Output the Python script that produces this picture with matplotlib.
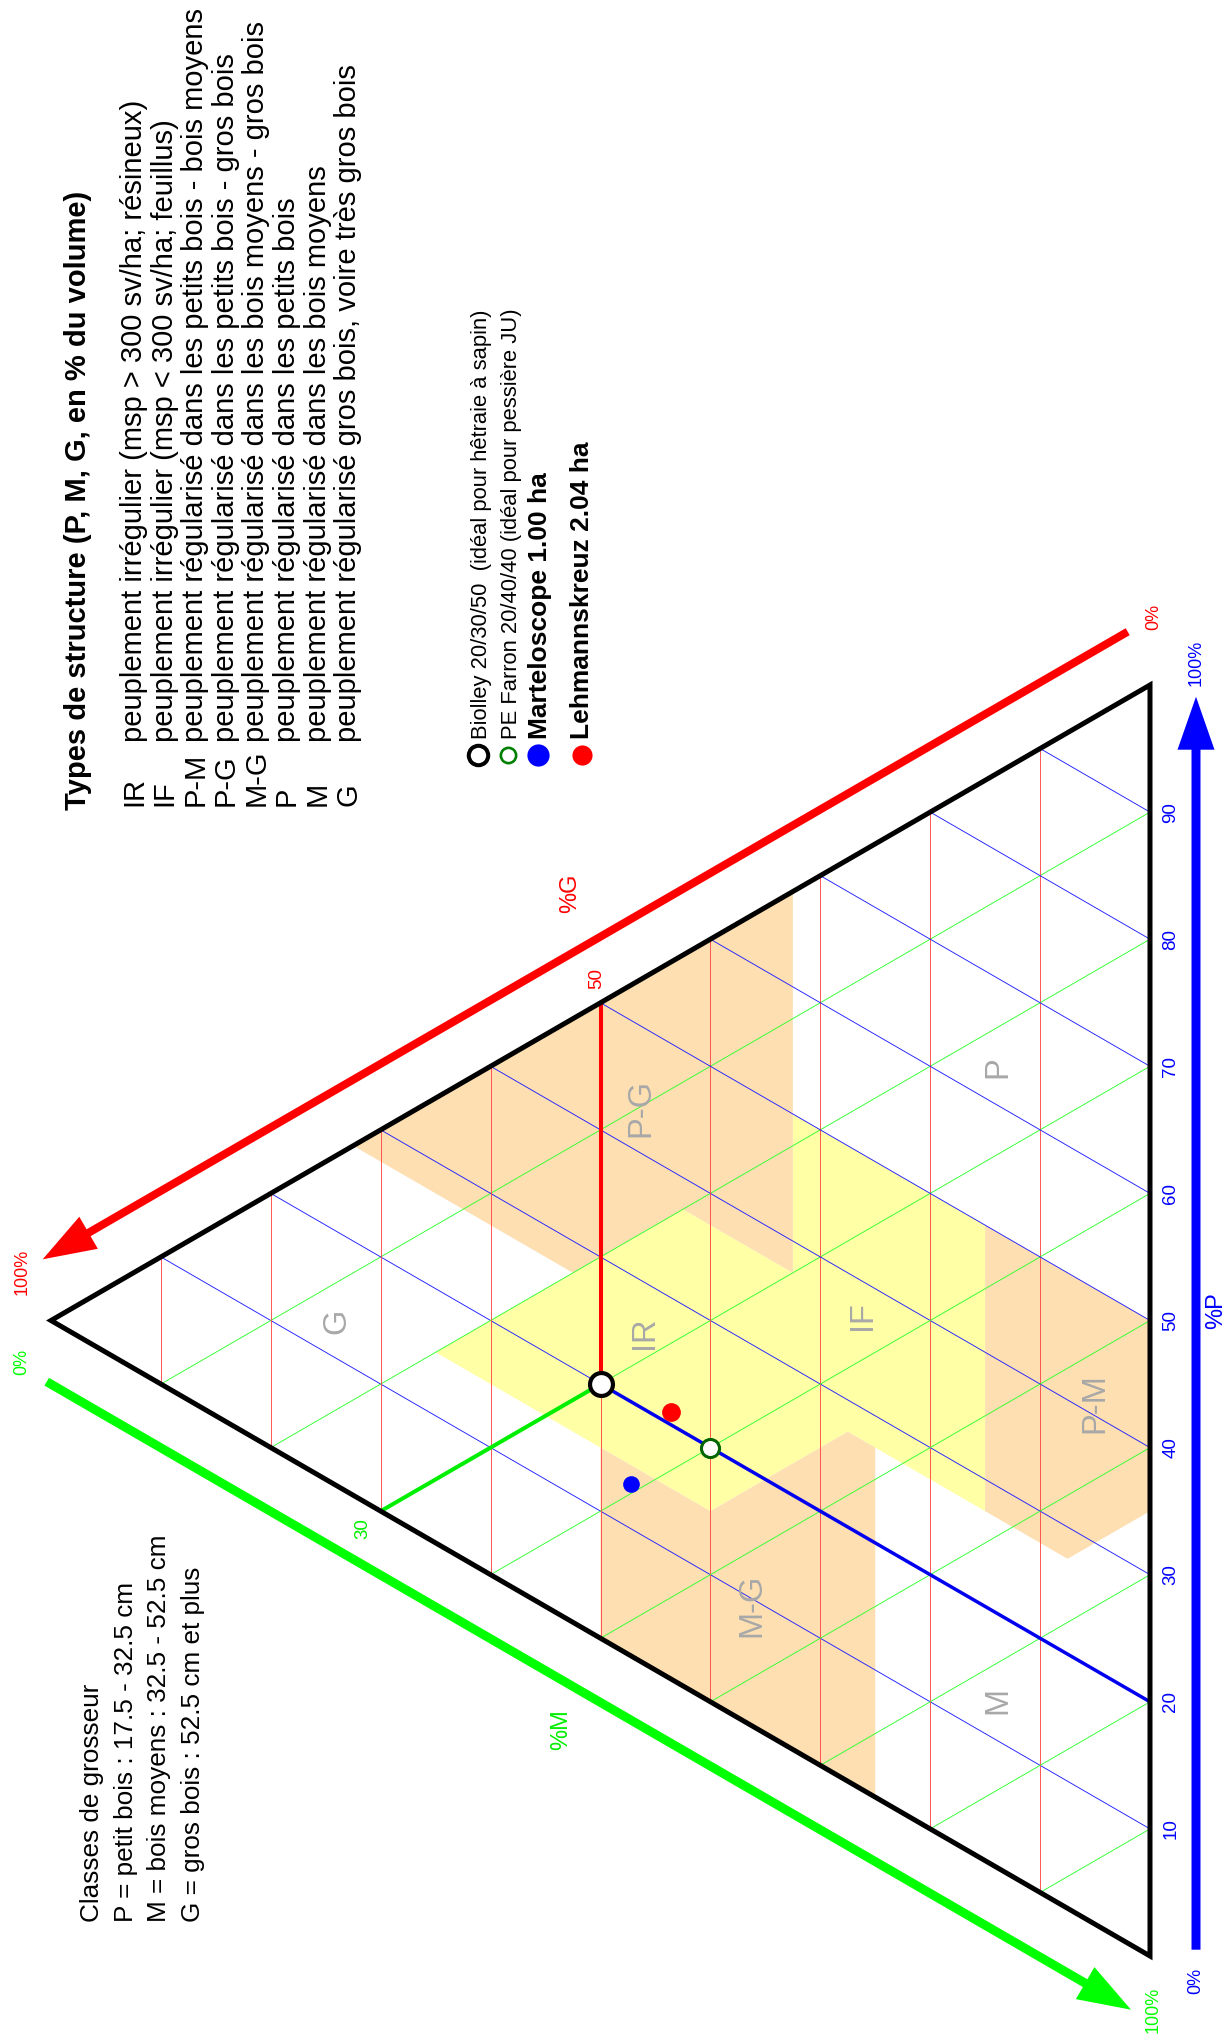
import matplotlib.pyplot as plt
from matplotlib.patches import Polygon, FancyArrow

plt.rcParams['font.family'] = ['Liberation Sans', 'DejaVu Sans']

# --- données (en % du volume : P, M, G) ---
biolley = (20, 30, 50)
farron = (20, 40, 40)
marteloscope = (13.5, 39.3, 47.2)
lehmannskreuz = (21.0, 35.4, 43.6)

graduations = [10, 20, 30, 40, 50, 60, 70, 80, 90]

# zones de structure, sommets en (P, M, G)
zone_jaune = [(15, 20, 65), (37.5, 20, 42.5), (37.5, 30, 32.5), (50, 17.5, 32.5),
              (50, 35, 15), (27.5, 57.5, 15), (27.5, 45, 27.5), (15, 45, 40)]
zone_pg = [(27.5, 0, 72.5), (67.5, 0, 32.5), (37.5, 30, 32.5),
           (37.5, 20, 42.5), (27.5, 20, 52.5)]
zone_pm = [(50, 50, 0), (50, 35, 15), (27.5, 57.5, 15), (27.5, 65, 7.5), (35, 65, 0)]
zone_mg = [(15, 35, 50), (15, 45, 40), (27.5, 45, 27.5), (27.5, 47.5, 25),
           (0, 75, 25), (0, 50, 50)]

noms_zones = ["IR", "IF", "P-G", "P-M", "M-G", "P", "M", "G"]
pos_noms = [(26, 28, 46), (37.3, 36.5, 26.2), (43.6, 10.1, 46.3), (41, 54, 5),
            (9.5, 54.3, 36.2), (63, 23.2, 13.8), (13.2, 73, 13.8), (12.9, 13.1, 74)]

types_abrev = ["IR", "IF", "P-M", "P-G", "M-G", "P", "M", "G"]
types_texte = [
    "peuplement irrégulier (msp > 300 sv/ha; résineux)",
    "peuplement irrégulier (msp < 300 sv/ha; feuillus)",
    "peuplement régularisé dans les petits bois - bois moyens",
    "peuplement régularisé dans les petits bois - gros bois",
    "peuplement régularisé dans les bois moyens - gros bois",
    "peuplement régularisé dans les petits bois",
    "peuplement régularisé dans les bois moyens",
    "peuplement régularisé gros bois, voire très gros bois",
]
classes = ["Classes de grosseur",
           "P = petit bois : 17.5 - 32.5 cm",
           "M = bois moyens : 32.5 - 52.5 cm",
           "G = gros bois : 52.5 cm et plus"]

LARG, HAUT = 1231, 2043
X_BASE, X_G = 1150, 51
Y_P, Y_M = 685, 1956


def tern(p, m, g):
    # axes ternaires : x = 100 - G, y = (P - M) / 2
    return 100 - g, (p - m) / 2


def segment(a, b, **kw):
    xa, ya = tern(*a)
    xb, yb = tern(*b)
    ax.plot([xa, xb], [ya, yb], clip_on=False, solid_capstyle='butt', **kw)


fig = plt.figure(figsize=(LARG / 100, HAUT / 100), dpi=100)
ax = fig.add_axes([X_G / LARG, 1 - Y_M / HAUT, (X_BASE - X_G) / LARG, (Y_M - Y_P) / HAUT])
ax.set_xlim(0, 100)
ax.set_ylim(-50, 50)
ax.axis('off')

# zones colorées
for zone, coul in [(zone_jaune, '#FFFFA6'), (zone_pg, '#FDDFB1'),
                   (zone_pm, '#FDDFB1'), (zone_mg, '#FDDFB1')]:
    ax.add_patch(Polygon([tern(*s) for s in zone], closed=True, facecolor=coul,
                         edgecolor='none', zorder=1, clip_on=False))

# grille
for k in graduations:
    segment((k, 100 - k, 0), (k, 0, 100 - k), color='#2020FF', lw=0.65, zorder=2)
    segment((100 - k, k, 0), (0, k, 100 - k), color='#30FF30', lw=0.65, zorder=2)
    segment((100 - k, 0, k), (0, 100 - k, k), color='#FF4848', lw=0.65, zorder=2)

# repères Biolley
segment((50, 0, 50), biolley, color='#FF0000', lw=2.9, zorder=3)
segment((0, 30, 70), biolley, color='#00EE00', lw=2.9, zorder=3)
segment((20, 80, 0), biolley, color='#0000EE', lw=2.5, zorder=3)

# triangle
coins = [tern(100, 0, 0), tern(0, 100, 0), tern(0, 0, 100)]
ax.add_patch(Polygon(coins, closed=True, fill=False, edgecolor='black', lw=3.6,
                     joinstyle='miter', zorder=4, clip_on=False))

# points
ax.plot(*tern(*biolley), 'o', ms=16.5, mfc='white', mec='black', mew=3.0, zorder=6, clip_on=False)
ax.plot(*tern(*farron), 'o', ms=13, mfc='white', mec='#006400', mew=2.2, zorder=6, clip_on=False)
ax.plot(*tern(*lehmannskreuz), 'o', ms=13.5, mfc='#FF0000', mec='none', zorder=6, clip_on=False)
ax.plot(*tern(*marteloscope), 'o', ms=12, mfc='#0000FF', mec='none', zorder=6, clip_on=False)

# graduations
for k in graduations:
    ax.annotate(str(k), xy=tern(k, 100 - k, 0), xytext=(21, 0), textcoords='offset pixels',
                rotation=90, ha='center', va='center', color='#0000FF', fontsize=13.5)
ax.annotate("50", xy=tern(50, 0, 50), xytext=(-3.5, 24), textcoords='offset pixels',
            rotation=90, ha='center', va='center', color='#FF0000', fontsize=13.5)
ax.annotate("30", xy=tern(0, 30, 70), xytext=(-18, -17), textcoords='offset pixels',
            rotation=90, ha='center', va='center', color='#00EE00', fontsize=13.5)

for nom, pos in zip(noms_zones, pos_noms):
    ax.text(*tern(*pos), nom, rotation=90, ha='center', va='center',
            color='#A8A8A8', fontsize=23.5, zorder=5)

# décor en pixels
deco = fig.add_axes([0, 0, 1, 1])
deco.set_xlim(0, LARG)
deco.set_ylim(HAUT, 0)
deco.axis('off')

for (x0, y0, x1, y1, coul, larg) in [(1127.7, 631.7, 42.7, 1259.3, '#FF0000', 8),
                                     (46.7, 1381.7, 1131, 2009.7, '#00FF00', 9),
                                     (1196, 1949.7, 1196, 696.7, '#0000FF', 9)]:
    deco.add_patch(FancyArrow(x0, y0, x1 - x0, y1 - y0, width=larg, head_width=37,
                              head_length=53, length_includes_head=True,
                              color=coul, lw=0))

etiquettes = [("0%", 1154, 617, '#FF0000'), ("100%", 22, 1272, '#FF0000'),
              ("0%", 22, 1362, '#00FF00'), ("100%", 1153, 2010, '#00FF00'),
              ("0%", 1196, 1981, '#0000FF'), ("100%", 1196, 663, '#0000FF')]
for s, x, y, c in etiquettes:
    deco.text(x, y, s, rotation=90, ha='center', va='center', color=c, fontsize=13)

deco.text(570, 893, "%G", rotation=90, ha='center', va='center', color='#FF0000', fontsize=17)
deco.text(561, 1730, "%M", rotation=90, ha='center', va='center', color='#00EE00', fontsize=17)
deco.text(1216, 1311, "%P", rotation=90, ha='center', va='center', color='#0000FF', fontsize=17)

# titre et types de structure
deco.text(78, 810, "Types de structure (P, M, G, en % du volume)", rotation=90,
          ha='center', va='bottom', fontsize=21, fontweight='bold')
for i, (a, t) in enumerate(zip(types_abrev, types_texte)):
    x = 134 + 30.6 * i
    deco.text(x, 806, a, rotation=90, ha='center', va='bottom', fontsize=21)
    deco.text(x, 742, t, rotation=90, ha='center', va='bottom', fontsize=21)

# légende des points
legende = [("Biolley 20/30/50  (idéal pour hêtraie à sapin)", 482, 478,
            dict(ms=14, mfc='white', mec='black', mew=2.9), 15.8, 'normal'),
           ("PE Farron 20/40/40 (idéal pour pessière JU)", 511.7, 507.7,
            dict(ms=11, mfc='white', mec='#008000', mew=1.9), 15.8, 'normal'),
           ("Marteloscope 1.00 ha", 540, 538,
            dict(ms=16, mfc='#0000FF', mec='none'), 19, 'bold'),
           ("Lehmannskreuz 2.04 ha", 581.7, 581.7,
            dict(ms=14.5, mfc='#FF0000', mec='none'), 19, 'bold')]
for texte, xt, xm, style, taille, poids in legende:
    deco.plot(xm, 755, 'o', **style)
    deco.text(xt, 739, texte, rotation=90, ha='center', va='bottom',
              fontsize=taille, fontweight=poids)

for i, t in enumerate(classes):
    deco.text(91.7 + 33.8 * i, 1922, t, rotation=90, ha='center', va='bottom', fontsize=18.8)

fig.savefig("out.png", dpi=100)
